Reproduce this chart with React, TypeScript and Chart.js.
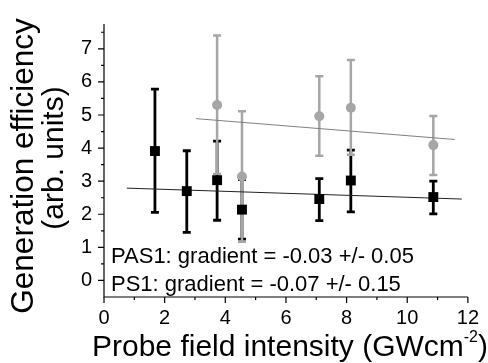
import React, { useEffect, useRef } from "react";
import { Chart, registerables } from "chart.js";

Chart.register(...registerables);

// PAS1 (black squares)
const intensityPAS1 = [1.68, 2.73, 3.73, 4.55, 7.1, 8.14, 10.86];
const effPAS1 = [3.91, 2.7, 3.03, 2.14, 2.46, 3.02, 2.52];
const effPAS1High = [5.78, 3.92, 4.21, 3.05, 3.08, 3.94, 3.0];
const effPAS1Low = [2.06, 1.45, 1.82, 1.25, 1.81, 2.07, 2.01];

// PS1 (grey circles)
const intensityPS1 = [3.73, 4.55, 7.1, 8.14, 10.86];
const effPS1 = [5.3, 3.14, 4.96, 5.22, 4.09];
const effPS1High = [7.4, 5.11, 6.17, 6.66, 4.97];
const effPS1Low = [3.22, 1.17, 3.77, 3.8, 3.19];

// linear fits
const fitPAS1X = [0.75, 11.8];
const fitPAS1Y = [2.79, 2.46];
const fitPS1X = [3.03, 11.57];
const fitPS1Y = [4.89, 4.26];

const annotations = [
  "PAS1: gradient = -0.03 +/- 0.05",
  "PS1: gradient = -0.07 +/- 0.15",
];
const yTitle = ["Generation efficiency", "(arb. units)"];
const xTitle = "Probe field intensity (GWcm";
const xTitleSup = "-2";
const xTitleEnd = ")";

const FONT = "'Liberation Sans', Arial, Helvetica, sans-serif";
const GREY = "#a6a6a6";

const pts = (xs: number[], ys: number[]) => xs.map((x, i) => ({ x, y: ys[i] }));

const errorBarPlugin = {
  id: "errorBars",
  beforeDatasetsDraw(chart: any) {
    const { ctx, scales } = chart;
    const xs = scales.x;
    const ys = scales.y;
    const drawSet = (xv: number[], lo: number[], hi: number[], color: string, lw: number) => {
      ctx.save();
      ctx.strokeStyle = color;
      ctx.lineWidth = lw;
      xv.forEach((x, i) => {
        const px = xs.getPixelForValue(x);
        const pl = ys.getPixelForValue(lo[i]);
        const ph = ys.getPixelForValue(hi[i]);
        ctx.beginPath();
        ctx.moveTo(px, pl);
        ctx.lineTo(px, ph);
        ctx.moveTo(px - 4, pl);
        ctx.lineTo(px + 4, pl);
        ctx.moveTo(px - 4, ph);
        ctx.lineTo(px + 4, ph);
        ctx.stroke();
      });
      ctx.restore();
    };
    drawSet(intensityPAS1, effPAS1Low, effPAS1High, "#000000", 2.8);
    drawSet(intensityPS1, effPS1Low, effPS1High, GREY, 2.5);
  },
};

const decorPlugin = {
  id: "decor",
  afterDraw(chart: any) {
    const { ctx, scales, chartArea } = chart;
    const xs = scales.x;
    const ys = scales.y;
    ctx.save();
    ctx.strokeStyle = "#000";
    ctx.lineWidth = 1.2;
    // axis lines
    ctx.beginPath();
    ctx.moveTo(chartArea.left, chartArea.top);
    ctx.lineTo(chartArea.left, chartArea.bottom);
    ctx.lineTo(chartArea.right, chartArea.bottom);
    ctx.stroke();
    // x ticks
    ctx.beginPath();
    for (let v = xs.min; v <= xs.max + 1e-9; v += 1) {
      const p = xs.getPixelForValue(v);
      const len = Math.round(v) % 2 === 0 ? 6 : 3;
      ctx.moveTo(p, chartArea.bottom);
      ctx.lineTo(p, chartArea.bottom + len);
    }
    // y ticks
    for (let v = 0; v <= ys.max + 1e-9; v += 0.5) {
      const p = ys.getPixelForValue(v);
      const len = Math.abs(v - Math.round(v)) < 1e-6 ? 6 : 3;
      ctx.moveTo(chartArea.left, p);
      ctx.lineTo(chartArea.left - len, p);
    }
    ctx.stroke();

    // annotations
    ctx.fillStyle = "#000";
    ctx.font = `22px ${FONT}`;
    ctx.textAlign = "left";
    ctx.textBaseline = "alphabetic";
    ctx.fillText(annotations[0], chartArea.left + 7, chartArea.bottom - 34);
    ctx.fillText(annotations[1], chartArea.left + 7, chartArea.bottom - 6);

    // y title
    ctx.textAlign = "center";
    ctx.save();
    ctx.font = `31.5px ${FONT}`;
    ctx.translate(33, 166);
    ctx.rotate(-Math.PI / 2);
    ctx.fillText(yTitle[0], 0, 0);
    ctx.restore();
    ctx.save();
    ctx.font = `30px ${FONT}`;
    ctx.translate(63, 158);
    ctx.rotate(-Math.PI / 2);
    ctx.fillText(yTitle[1], 0, 0);
    ctx.restore();

    // x title
    ctx.textAlign = "left";
    let x = 92;
    const base = 356;
    ctx.font = `30px ${FONT}`;
    ctx.fillText(xTitle, x, base);
    x += ctx.measureText(xTitle).width;
    ctx.font = `16px ${FONT}`;
    ctx.fillText(xTitleSup, x, base - 14);
    x += ctx.measureText(xTitleSup).width;
    ctx.font = `30px ${FONT}`;
    ctx.fillText(xTitleEnd, x, base);
    ctx.restore();
  },
};

export default function App() {
  const ref = useRef<HTMLCanvasElement | null>(null);
  useEffect(() => {
    if (!ref.current) return;
    Chart.defaults.font.family = FONT;
    const chart = new Chart(ref.current, {
      type: "scatter",
      data: {
        datasets: [
          {
            label: "PAS1",
            data: pts(intensityPAS1, effPAS1),
            pointStyle: "rect",
            pointRadius: 7,
            backgroundColor: "#000",
            borderColor: "#000",
            borderWidth: 0,
            order: 0,
          },
          {
            label: "PS1",
            data: pts(intensityPS1, effPS1),
            pointStyle: "circle",
            pointRadius: 5,
            backgroundColor: GREY,
            borderColor: GREY,
            borderWidth: 0,
            order: 1,
          },
          {
            label: "PAS1 fit",
            data: pts(fitPAS1X, fitPAS1Y),
            showLine: true,
            pointRadius: 0,
            borderColor: "#222",
            borderWidth: 1,
            order: 2,
          },
          {
            label: "PS1 fit",
            data: pts(fitPS1X, fitPS1Y),
            showLine: true,
            pointRadius: 0,
            borderColor: "#808080",
            borderWidth: 1,
            order: 2,
          },
        ],
      },
      options: {
        animation: false,
        responsive: false,
        events: [],
        layout: { padding: { left: 0, top: 9, right: 13, bottom: 0 } },
        plugins: { legend: { display: false }, tooltip: { enabled: false } },
        scales: {
          x: {
            type: "linear",
            min: 0,
            max: 12,
            grid: { display: false, drawTicks: false },
            border: { display: false },
            ticks: {
              stepSize: 2,
              padding: 9,
              color: "#000",
              font: { size: 20, family: FONT },
              maxRotation: 0,
            },
            afterFit: (s: any) => {
              s.height = 66;
            },
          },
          y: {
            type: "linear",
            min: -0.5,
            max: 7.75,
            grid: { display: false, drawTicks: false },
            border: { display: false },
            ticks: {
              stepSize: 1,
              includeBounds: false,
              padding: 12,
              color: "#000",
              font: { size: 20, family: FONT },
            },
            afterFit: (s: any) => {
              s.width = 104;
            },
          },
        },
      },
      plugins: [errorBarPlugin, decorPlugin],
    });
    return () => chart.destroy();
  }, []);
  return (
    <div style={{ position: "absolute", left: 0, top: 0, width: 488, height: 363, background: "#fff" }}>
      <canvas ref={ref} width={488} height={363} />
    </div>
  );
}
